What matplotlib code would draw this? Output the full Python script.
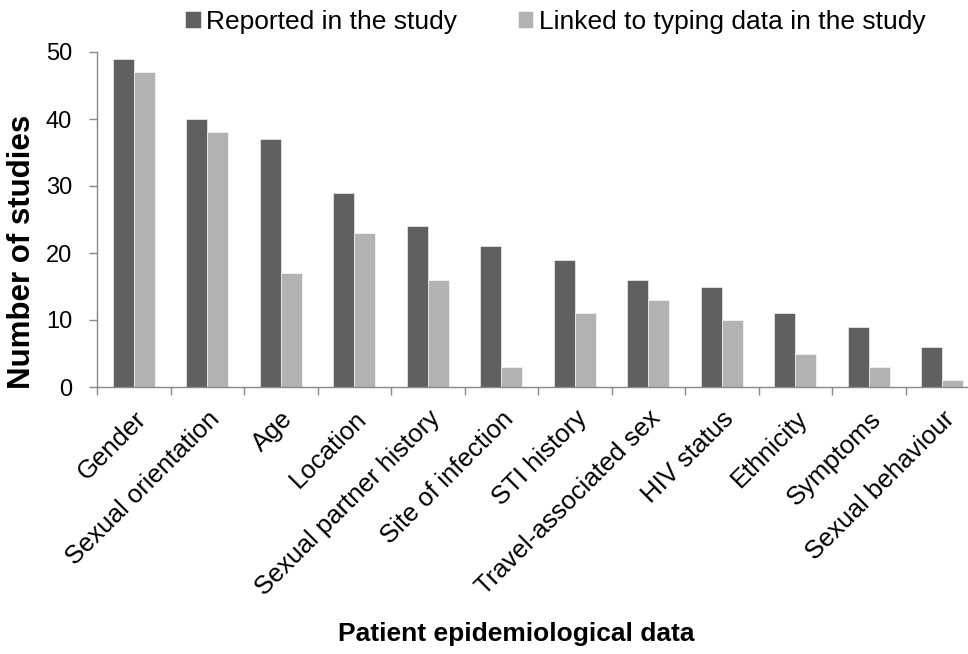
import matplotlib
matplotlib.use("Agg")
import matplotlib.pyplot as plt
import numpy as np

categories = ["Gender", "Sexual orientation", "Age", "Location", "Sexual partner history",
              "Site of infection", "STI history", "Travel-associated sex", "HIV status",
              "Ethnicity", "Symptoms", "Sexual behaviour"]
reported = [49, 40, 37, 29, 24, 21, 19, 16, 15, 11, 9, 6]
linked = [47, 38, 17, 23, 16, 3, 11, 13, 10, 5, 3, 1]
series_names = ["Reported in the study", "Linked to typing data in the study"]

plt.rcParams['font.family'] = ['Liberation Sans', 'DejaVu Sans']

W, H = 968, 654
fig = plt.figure(figsize=(W / 100, H / 100), dpi=100)
left, right, top, bottom = 97, 979, 52, 387
ax = fig.add_axes([left / W, 1 - bottom / H, (right - left) / W, (bottom - top) / H])

x = np.arange(len(categories))
bw = 0.287
dark = "#606060"
light = "#b2b2b2"
b1 = ax.bar(x - bw / 2, reported, bw, color=dark, edgecolor="white", linewidth=0.4, label=series_names[0])
b2 = ax.bar(x + bw / 2, linked, bw, color=light, edgecolor="white", linewidth=0.4, label=series_names[1])

ax.set_xlim(-0.5, len(categories) - 0.5)
ax.set_ylim(0, 50)
ax.set_yticks([0, 10, 20, 30, 40, 50])
ax.set_xticks(np.arange(len(categories) + 1) - 0.5, minor=False)
ax.set_xticklabels([])
ax.set_xticks(x, minor=True)
ax.set_xticklabels(categories, minor=True, rotation=45, ha="right", va="top",
                   rotation_mode="anchor", fontsize=18.5)
ax.tick_params(axis="x", which="minor", length=0, pad=14)
ax.tick_params(axis="x", which="major", length=6, color="#888888", width=1)
ax.tick_params(axis="y", length=6, color="#888888", width=1, labelsize=17, pad=12)

for s in ["top", "right"]:
    ax.spines[s].set_visible(False)
for s in ["left", "bottom"]:
    ax.spines[s].set_color("#888888")
    ax.spines[s].set_linewidth(1)

fig.text(22 / W, 1 - 252 / H, "Number of studies", fontsize=22.5, fontweight="bold",
         rotation=90, ha="center", va="center")
fig.text(516 / W, 1 - 634 / H, "Patient epidemiological data", fontsize=19,
         fontweight="bold", ha="center", va="center")

fig.legend(handles=[b1, b2], labels=series_names, loc="center", ncol=2,
           bbox_to_anchor=(555 / W, 1 - 22 / H), frameon=False, fontsize=19,
           handlelength=0.6, handleheight=0.6, handletextpad=0.2, columnspacing=2.3,
           borderaxespad=0, borderpad=0)

fig.savefig("out.png", dpi=100)
